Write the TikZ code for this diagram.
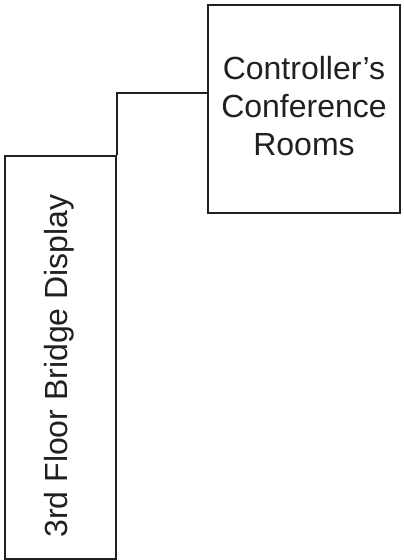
\documentclass[tikz,border=0pt]{standalone}
\usepackage{fontspec}
\setmainfont{Liberation Sans}
\usetikzlibrary{positioning, calc}

\begin{document}
\begin{tikzpicture}[
    x=1pt, y=-1pt,
    every node/.style={font=\fontsize{32}{38}\selectfont},
]

% ---------------------------------------------------------------- colours
\definecolor{linecolor}{HTML}{231F20}   % box outlines and the link
\definecolor{textcolor}{HTML}{231F20}

% ---------------------------------------------------------------- styles
\tikzset{
    roombox/.style={draw=linecolor, line width=1.7pt, inner sep=0pt},
    roomlabel/.style={text=textcolor, align=center, inner sep=0pt},
    link/.style={linecolor, line width=1.7pt},
}

% the page, in pixels of the reference: x to the right, y down
\useasboundingbox (0, 0) rectangle (404, 560);

% ----------------------------------------------------------------------
% the two rooms
% ----------------------------------------------------------------------
\node[roombox, minimum width=192pt, minimum height=208pt] (conf)
    at (304, 109) {};
% the second line carries a trailing space in the original
\node[roomlabel] (conflabel) at (304, 106)
    {Controller's\\Conference\hspace*{12pt}\\Rooms};

\node[roombox, minimum width=111pt, minimum height=403pt] (bridge)
    at (60.5, 357.5) {};
\node[roomlabel, rotate=90] (bridgelabel) at (59, 366)
    {3rd Floor Bridge Display};

% ----------------------------------------------------------------------
% the link: up from the bridge, then across to the rooms
% ----------------------------------------------------------------------
\coordinate (bend) at (bridge.north east |- 0, 93);
\draw[link] (bridge.north east) -- (bend) -- (bend -| conf.west);

\end{tikzpicture}
\end{document}
